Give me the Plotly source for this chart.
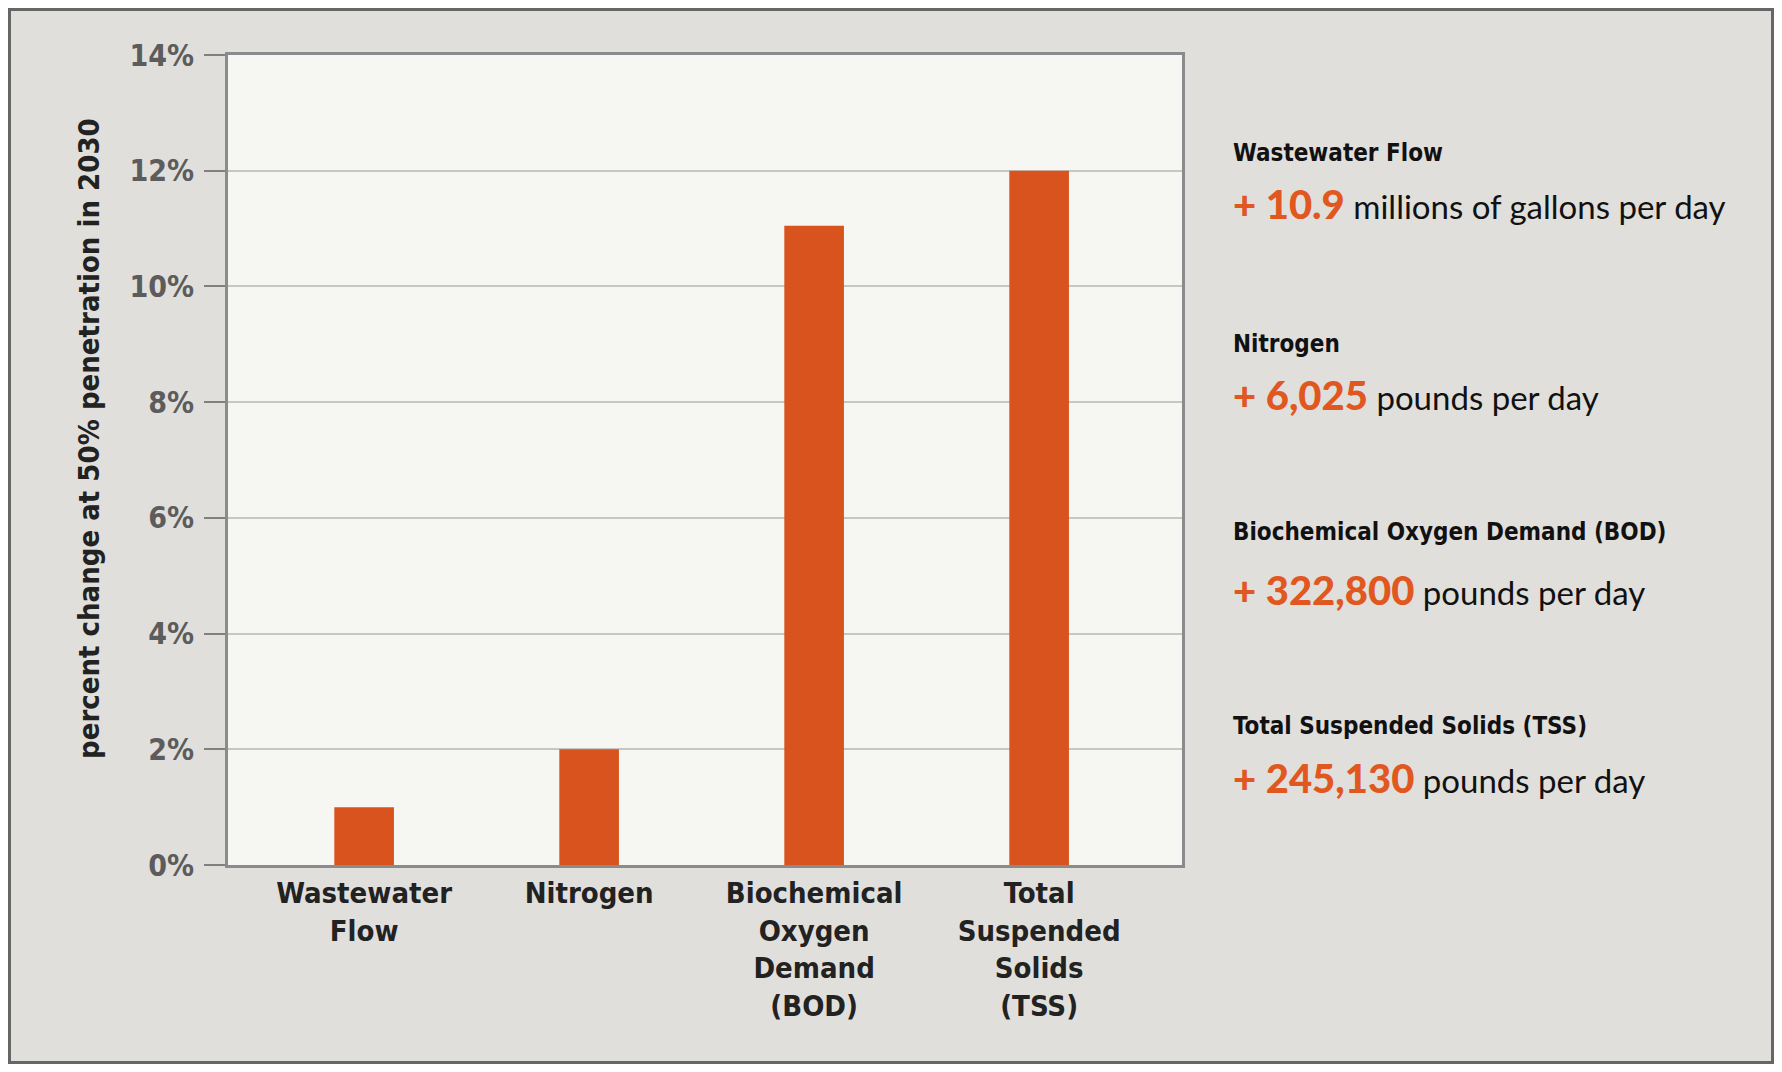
"""Wastewater impact bar chart with side annotations."""
import plotly.graph_objects as go

CATEGORIES = ["Wastewater Flow", "Nitrogen", "Biochemical Oxygen Demand (BOD)", "Total Suspended Solids (TSS)"]
TICK_TEXT = ["Wastewater<br>Flow", "Nitrogen", "Biochemical<br>Oxygen<br>Demand<br>(BOD)",
             "Total<br>Suspended<br>Solids<br>(TSS)"]
PCT_CHANGE = [1.0, 2.0, 11.05, 12.0]
AMOUNTS = ["+ 10.9", "+ 6,025", "+ 322,800", "+ 245,130"]
UNITS = ["millions of gallons per day", "pounds per day", "pounds per day", "pounds per day"]
Y_TICKS = [0, 2, 4, 6, 8, 10, 12, 14]

BAR = "#d9531e"
ORANGE = "#e0571f"
PANEL_BG = "#e1dfdb"
PLOT_BG = "#f6f6f2"
AXIS = "#8b8b8d"
COND = "'DejaVu Sans Condensed','Liberation Sans Narrow',sans-serif"
BODY = "Lato, 'Noto Sans', sans-serif"

# page has an 8px body margin, so the figure is sized to sit inside it
W, H = 1766, 1056
L, R, T, B = 220, 1174, 47, 857  # plot area in figure pixels


def px_x(px):
    return (px - L) / (R - L)


def px_y(py):
    return (B - py) / (B - T)


fig = go.Figure(go.Bar(
    x=CATEGORIES, y=PCT_CHANGE, marker_color=BAR, marker_line_width=0,
    width=0.265, hovertemplate="%{x}: %{y}%<extra></extra>",
))

# ── right-hand panel: heading + value line per category ──────────────────
heading_y = [145, 336, 524, 718]
value_y = [196, 387, 582, 770]
anns = []
for name, amt, unit, hy, vy in zip(CATEGORIES, AMOUNTS, UNITS, heading_y, value_y):
    anns.append(dict(
        xref="paper", yref="paper", x=px_x(1223), y=px_y(hy),
        xanchor="left", yanchor="middle", showarrow=False,
        text=name, font=dict(family=COND, size=24, color="#111111", weight="bold"),
    ))
    anns.append(dict(
        xref="paper", yref="paper", x=px_x(1223), y=px_y(vy),
        xanchor="left", yanchor="middle", showarrow=False,
        text=f"<span style='color:{ORANGE};font-size:40px;font-weight:900'>{amt}</span> {unit}",
        font=dict(family=BODY, size=33, color="#111111"),
    ))

# rotated y title
anns.append(dict(
    xref="paper", yref="paper", x=px_x(81), y=px_y(431),
    xanchor="center", yanchor="middle", showarrow=False, textangle=-90,
    text="percent change at 50% penetration in 2030",
    font=dict(family=COND, size=29, color="#222222", weight="bold"),
))

fig.update_layout(
    width=W, height=H,
    paper_bgcolor=PANEL_BG, plot_bgcolor=PLOT_BG,
    margin=dict(l=L, r=W - R, t=T, b=H - B),
    showlegend=False,
    xaxis=dict(
        tickmode="array", tickvals=CATEGORIES, ticktext=TICK_TEXT,
        range=[-0.605, 3.635], showgrid=False, zeroline=False,
        showline=True, linecolor=AXIS, linewidth=3, mirror=True, ticks="",
        tickfont=dict(family=COND, size=29, color="#222222", weight="bold"),
        ticklabelstandoff=0,
    ),
    yaxis=dict(
        range=[0, 14], tickmode="array", tickvals=Y_TICKS,
        ticktext=[f"{v}%" for v in Y_TICKS],
        showgrid=True, gridcolor="#c6c6c6", gridwidth=1.5, zeroline=False,
        showline=True, linecolor=AXIS, linewidth=3, mirror=True,
        ticks="outside", ticklen=21, tickwidth=2, tickcolor="#808080",
        tickfont=dict(family=COND, size=30, color="#5c5c5c", weight="bold"),
        ticklabelstandoff=4,
    ),
    shapes=[dict(
        type="rect", xref="paper", yref="paper", layer="above",
        x0=px_x(1.5), x1=px_x(W - 1.5), y0=px_y(H - 1.5), y1=px_y(1.5),
        line=dict(color="#666666", width=3),
    )],
    annotations=anns,
)

fig.write_html("out.html")
